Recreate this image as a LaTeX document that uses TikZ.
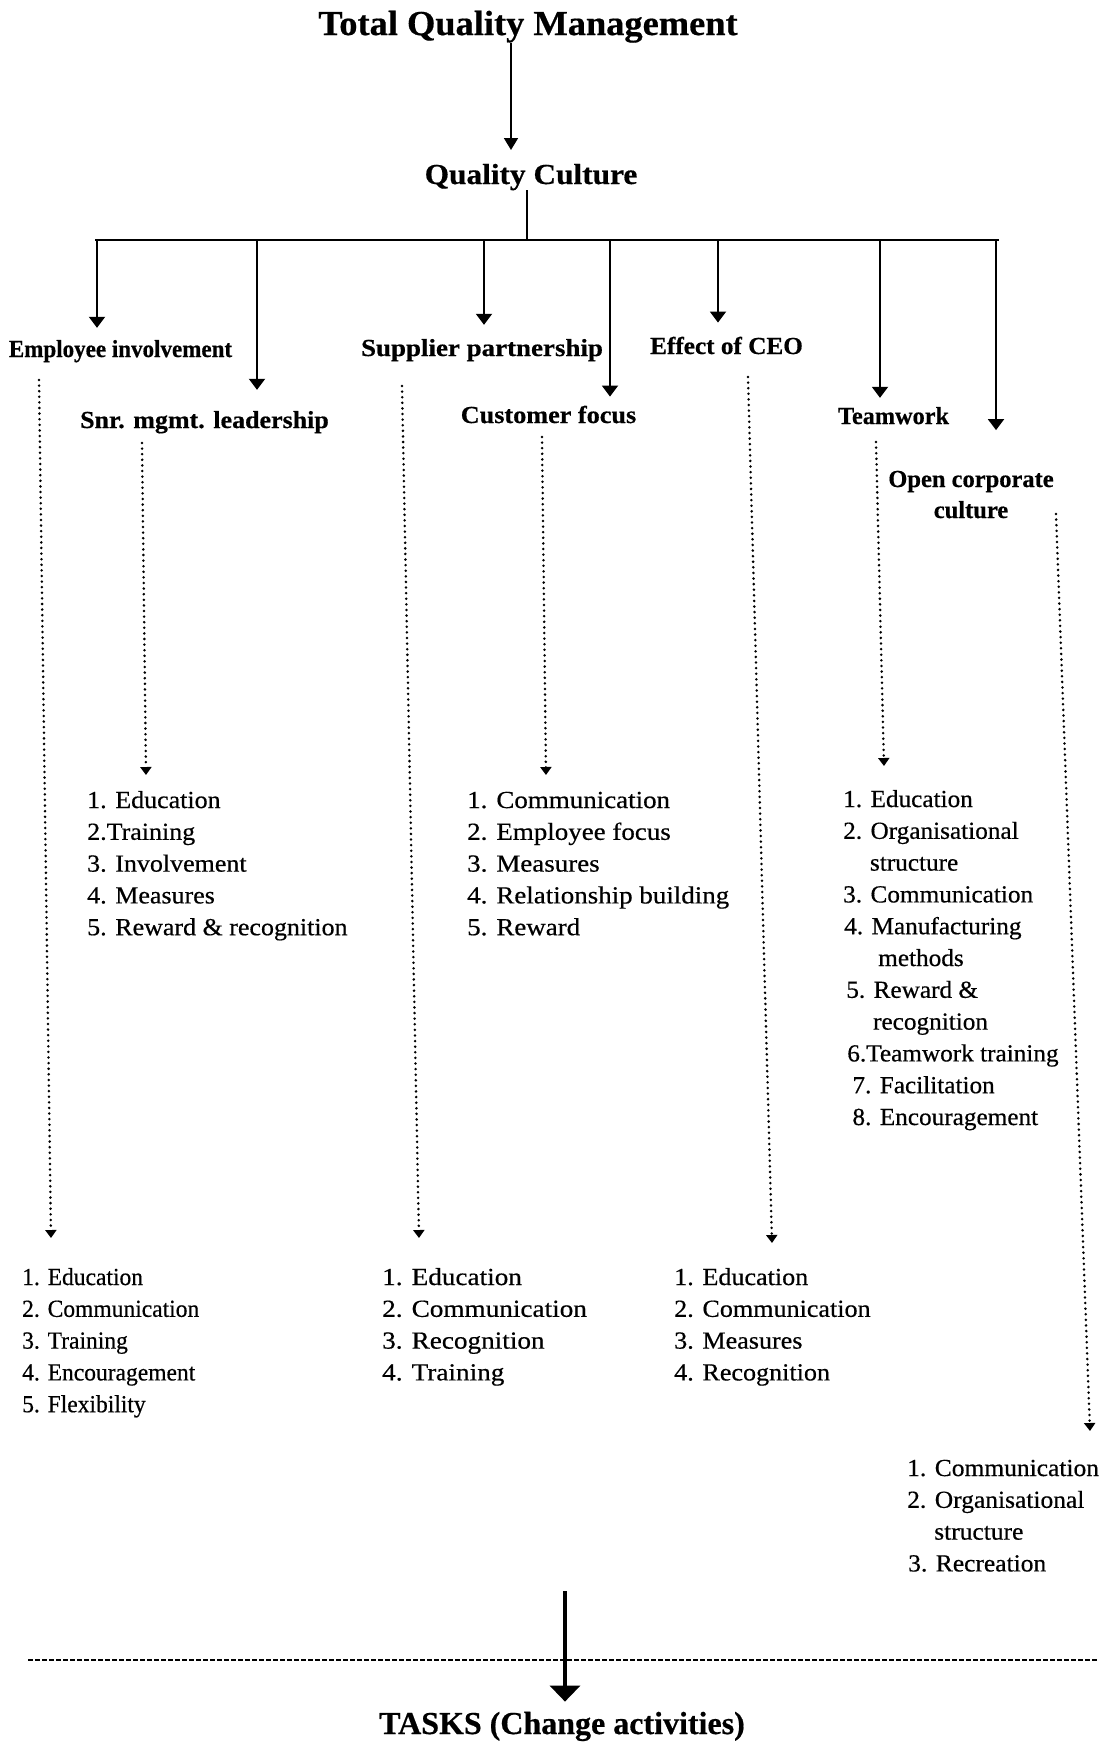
\documentclass[tikz,border=0pt]{standalone}
\usepackage{fontspec}
\usepackage{graphicx}
\setmainfont{Liberation Serif}[FakeBold=0.5]
\usetikzlibrary{arrows.meta,calc}

% one column of numbered entries, baseline on the first row
\newcommand\colitems[1]{\begin{tabular}[t]{@{}l@{}}#1\end{tabular}}
\newcommand\stretchx[2]{\scalebox{#1}[1]{#2}}

\begin{document}
\begin{tikzpicture}[x=1pt,y=-1pt,
  toptitle/.style={font=\bfseries\fontsize{35}{40}\selectfont, inner sep=0pt, anchor=base},
  heading/.style={font=\bfseries\fontsize{24.5}{31}\selectfont, inner sep=0pt, anchor=base},
  items/.style={font=\fontsize{24.5}{31.8}\selectfont, inner sep=0pt, anchor=base west},
  leadarrow/.style={line width=1.8pt, -{Triangle[width=14pt,length=12pt]}},
  busline/.style={line width=2.8pt},
  drop/.style={line width=2pt, -{Triangle[width=16pt,length=11pt]}},
  dotarrow/.style={line width=2.8pt, line cap=round, dash pattern=on 0pt off 5.6pt,
                   -{Triangle[width=11pt,length=8pt]}},
  taskarrow/.style={line width=3.5pt, -{Triangle[width=30pt,length=16pt]}},
  divider/.style={line width=2.4pt, dash pattern=on 5pt off 2pt},
]
\useasboundingbox (0,0) rectangle (1102,1743);

% ---- top of the hierarchy
\node[toptitle] (tqm) at (528,35) {\stretchx{1.04}{Total Quality Management}};
\node[toptitle, font=\bfseries\fontsize{29}{34}\selectfont] (qc) at (531,184)
  {\stretchx{1.08}{Quality Culture}};

% ---- the seven elements of the quality culture
\node[heading] (ei)  at (120.5,357) {\stretchx{0.94}{Employee involvement}};
\node[heading] (snr) at (204.5,428) {\stretchx{1.06}{Snr. mgmt. leadership}};
\node[heading] (sp)  at (482,356)   {\stretchx{1.10}{Supplier partnership}};
\node[heading] (cf)  at (548.5,423) {\stretchx{1.07}{Customer focus}};
\node[heading] (ceo) at (726.5,354) {\stretchx{1.03}{Effect of CEO}};
\node[heading] (tw)  at (893.5,424) {\stretchx{0.99}{Teamwork}};
\node[heading] (occ) at (971,487)
  {\begin{tabular}[t]{@{}c@{}}Open corporate\\culture\end{tabular}};

% ---- change activities under each element
\node[items] (snr-list) at (87,808) {\stretchx{1.06}{\colitems{%
  1. Education\\2.Training\\3. Involvement\\4. Measures\\5. Reward \& recognition}}};
\node[items] (cf-list) at (467,808) {\stretchx{1.10}{\colitems{%
  1. Communication\\2. Employee focus\\3. Measures\\4. Relationship building\\5. Reward}}};
\node[items] (tw-list) at (843,807) {\stretchx{1.03}{\colitems{%
  1. Education\\
  2. Organisational\\
  \hspace*{26pt}structure\\
  3. Communication\\
  \hspace*{1pt}4. Manufacturing\\
  \hspace*{34pt}methods\\
  \hspace*{3pt}5. Reward \&\\
  \hspace*{29pt}recognition\\
  \hspace*{4pt}6.Teamwork training\\
  \hspace*{9pt}7. Facilitation\\
  \hspace*{9pt}8. Encouragement}}};
\node[items] (ei-list) at (22,1285) {\stretchx{0.96}{\colitems{%
  1. Education\\2. Communication\\3. Training\\4. Encouragement\\5. Flexibility}}};
\node[items] (sp-list) at (382,1285) {\stretchx{1.11}{\colitems{%
  1. Education\\2. Communication\\3. Recognition\\4. Training}}};
\node[items] (ceo-list) at (674,1285) {\stretchx{1.065}{\colitems{%
  1. Education\\2. Communication\\3. Measures\\4. Recognition}}};
\node[items] (occ-list) at (907,1476) {\stretchx{1.04}{\colitems{%
  1. Communication\\2. Organisational\\\hspace*{26pt}structure\\\hspace*{1pt}3. Recreation}}};

\node[toptitle, font=\bfseries\fontsize{32}{36}\selectfont] (tasks) at (562,1734)
  {TASKS (Change activities)};

% ---- solid connectors
\coordinate (qc-in) at (511,150);
\draw[leadarrow] (tqm.south -| qc-in) -- (qc-in);
\coordinate (hub) at (527,240);
\draw[line width=2pt] (qc.south -| hub) -- (hub);
\coordinate (bus-w) at (95,240);
\coordinate (bus-e) at (999,240);
\draw[busline] (bus-w) -- (bus-e);

\coordinate (b-ei)  at (97,240);
\coordinate (b-snr) at (257,240);
\coordinate (b-sp)  at (484,240);
\coordinate (b-cf)  at (610,240);
\coordinate (b-ceo) at (718,240);
\coordinate (b-tw)  at (880,240);
\coordinate (b-occ) at (996,240);
\draw[drop, shorten >=12pt] (b-ei)  -- (b-ei  |- ei.north);
\draw[drop, shorten >=21pt] (b-snr) -- (b-snr |- snr.north);
\draw[drop, shorten >=14pt] (b-sp)  -- (b-sp  |- sp.north);
\draw[drop, shorten >=9pt]  (b-cf)  -- (b-cf  |- cf.north);
\draw[drop, shorten >=14pt] (b-ceo) -- (b-ceo |- ceo.north);
\draw[drop, shorten >=9pt]  (b-tw)  -- (b-tw  |- tw.north);
\draw[drop, shorten >=35pt] (b-occ) -- (b-occ |- occ.north);

% ---- dotted leads down to the activity lists
\coordinate (ei-out)  at (39,380);   \coordinate (ei-in)  at (51,1238);
\coordinate (snr-out) at (142,443);  \coordinate (snr-in) at (146,775);
\coordinate (sp-out)  at (402,386);  \coordinate (sp-in)  at (419,1238);
\coordinate (cf-out)  at (542,437);  \coordinate (cf-in)  at (546,775);
\coordinate (ceo-out) at (748,377);  \coordinate (ceo-in) at (772,1243);
\coordinate (tw-out)  at (876,442);  \coordinate (tw-in)  at (884,766);
\coordinate (occ-out) at (1056,514); \coordinate (occ-in) at (1090,1431);
\draw[dotarrow] (ei-out)  -- (ei-in);
\draw[dotarrow] (snr-out) -- (snr-in);
\draw[dotarrow] (sp-out)  -- (sp-in);
\draw[dotarrow] (cf-out)  -- (cf-in);
\draw[dotarrow] (ceo-out) -- (ceo-in);
\draw[dotarrow] (tw-out)  -- (tw-in);
\draw[dotarrow] (occ-out) -- (occ-in);

% ---- everything feeds the tasks
\coordinate (div-w) at (28,1660);
\coordinate (div-e) at (1098,1660);
\draw[divider] (div-w) -- (div-e);
\coordinate (task-src) at (565,1591);
\draw[taskarrow, shorten >=10pt] (task-src) -- (task-src |- tasks.north);
\end{tikzpicture}
\end{document}
